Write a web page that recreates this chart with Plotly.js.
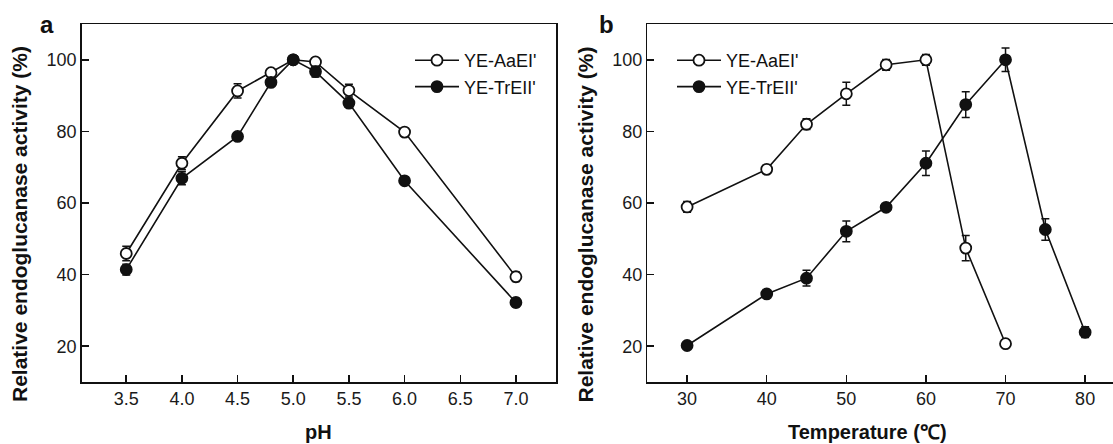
<!DOCTYPE html>
<html>
<head>
<meta charset="utf-8">
<script src="https://cdn.plot.ly/plotly-3.0.1.min.js"></script>
<style>html,body{margin:0;padding:0;background:#fff;overflow:hidden}#chart{width:1113px;height:444px}</style>
</head>
<body>
<div id="chart"></div>
<script>
// ---- data ----
const seriesNames = ["YE-AaEI'", "YE-TrEII'"];
const phX = [3.5, 4.0, 4.5, 4.8, 5.0, 5.2, 5.5, 6.0, 7.0];
const phAaEI = [45.9, 71.1, 91.3, 96.4, 100, 99.4, 91.4, 79.8, 39.4];
const phAaEIErr = [2.0, 1.8, 2.0, 1.0, 0.5, 1.0, 1.8, 0.8, 1.3];
const phTrEII = [41.4, 66.9, 78.6, 93.7, 100, 96.7, 87.9, 66.2, 32.2];
const phTrEIIErr = [1.5, 1.8, 1.0, 1.0, 0.5, 1.5, 1.0, 0.5, 1.2];
const tempXAaEI = [30, 40, 45, 50, 55, 60, 65, 70];
const tempAaEI = [58.9, 69.4, 82.0, 90.5, 98.6, 100, 47.4, 20.7];
const tempAaEIErr = [1.5, 0.8, 1.5, 3.2, 1.5, 1.5, 3.5, 0.8];
const tempXTrEII = [30, 40, 45, 50, 55, 60, 65, 70, 75, 80];
const tempTrEII = [20.2, 34.6, 39.0, 52.1, 58.8, 71.1, 87.5, 100, 52.6, 23.9];
const tempTrEIIErr = [0.5, 0.8, 2.2, 2.9, 0.8, 3.4, 3.6, 3.3, 3.0, 1.5];
const phTicks = [3.5, 4.0, 4.5, 5.0, 5.5, 6.0, 6.5, 7.0];
const tempTicks = [30, 40, 50, 60, 70, 80];
const activityTicks = [20, 40, 60, 80, 100];
const yTitle = "Relative endoglucanase activity (%)";
const xTitleA = "pH";
const xTitleB = "Temperature (\u2103)";

// ---- styling ----
const W = 1113, H = 444;
const FONT = "Liberation Sans, Arial, Helvetica, sans-serif";
const INK = "#111111";
const px = v => v / W;
const py = v => 1 - v / H;

function trace(x, y, err, name, filled, xa, ya, legend, showlegend) {
  return {
    type: "scatter", mode: "lines+markers", x: x, y: y, name: name,
    xaxis: xa, yaxis: ya, legend: legend, showlegend: showlegend,
    line: {color: INK, width: 1.6},
    marker: {symbol: "circle", size: 11, color: filled ? INK : "#ffffff",
             line: {color: INK, width: 1.8}},
    error_y: {type: "data", array: err, visible: true, color: INK, thickness: 1.5, width: 4}
  };
}

const data = [
  trace(phX, phAaEI, phAaEIErr, seriesNames[0], false, "x", "y", "legend", true),
  trace(phX, phTrEII, phTrEIIErr, seriesNames[1], true, "x", "y", "legend", true),
  trace(tempXAaEI, tempAaEI, tempAaEIErr, seriesNames[0], false, "x2", "y2", "legend2", true),
  trace(tempXTrEII, tempTrEII, tempTrEIIErr, seriesNames[1], true, "x2", "y2", "legend2", true)
];

function axis(extra) {
  return Object.assign({
    showline: true, linecolor: INK, linewidth: 1.5,
    ticks: "inside", ticklen: 7, tickwidth: 1.5, tickcolor: INK,
    showgrid: false, zeroline: false,
    tickfont: {family: FONT, size: 18, color: "#1a1a1a"}
  }, extra);
}

const layout = {
  width: W, height: H,
  margin: {l: 0, r: 0, t: 0, b: 0},
  paper_bgcolor: "#ffffff", plot_bgcolor: "#ffffff",
  font: {family: FONT, color: INK},
  xaxis: axis({domain: [px(81.7), px(556)], range: [3.1, 7.36], tickvals: phTicks,
               tickformat: ".1f", mirror: true, anchor: "y"}),
  yaxis: axis({domain: [py(382), py(24)], range: [10, 110], tickvals: activityTicks,
               mirror: true, anchor: "x"}),
  xaxis2: axis({domain: [px(647.3), 1], range: [25, 83.5], tickvals: tempTicks,
                mirror: true, anchor: "y2"}),
  yaxis2: axis({domain: [py(382), py(24)], range: [10, 110], tickvals: activityTicks,
                mirror: false, anchor: "x2"}),
  legend: {x: px(410), y: py(42), xanchor: "left", yanchor: "top", bgcolor: "rgba(0,0,0,0)",
           font: {family: FONT, size: 18, color: INK}, itemwidth: 44, tracegroupgap: 0},
  legend2: {x: px(672), y: py(42), xanchor: "left", yanchor: "top", bgcolor: "rgba(0,0,0,0)",
            font: {family: FONT, size: 18, color: INK}, itemwidth: 44, tracegroupgap: 0},
  annotations: [
    {text: "a", x: px(46.5), y: py(25), xref: "paper", yref: "paper", showarrow: false,
     xanchor: "center", yanchor: "middle", font: {family: FONT, size: 24, weight: "bold", color: INK}},
    {text: "b", x: px(606.5), y: py(25), xref: "paper", yref: "paper", showarrow: false,
     xanchor: "center", yanchor: "middle", font: {family: FONT, size: 24, weight: "bold", color: INK}},
    {text: yTitle, x: px(19.5), y: py(224.5), xref: "paper", yref: "paper", showarrow: false,
     textangle: -90, xanchor: "center", yanchor: "middle",
     font: {family: FONT, size: 21, weight: "bold", color: INK}},
    {text: yTitle, x: px(585), y: py(224.5), xref: "paper", yref: "paper", showarrow: false,
     textangle: -90, xanchor: "center", yanchor: "middle",
     font: {family: FONT, size: 21, weight: "bold", color: INK}},
    {text: xTitleA, x: px(318), y: py(432), xref: "paper", yref: "paper", showarrow: false,
     xanchor: "center", yanchor: "middle", font: {family: FONT, size: 20, weight: "bold", color: INK}},
    {text: xTitleB, x: px(867), y: py(432), xref: "paper", yref: "paper", showarrow: false,
     xanchor: "center", yanchor: "middle", font: {family: FONT, size: 20, weight: "bold", color: INK}}
  ]
};

Plotly.newPlot("chart", data, layout, {displayModeBar: false, staticPlot: true});
</script>
</body>
</html>
